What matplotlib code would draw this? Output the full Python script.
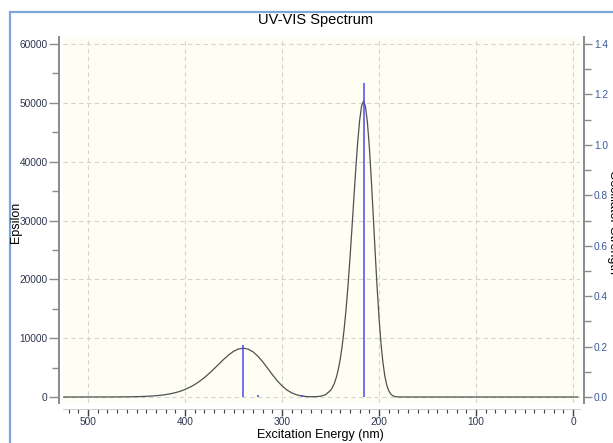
import matplotlib.pyplot as plt
from matplotlib.patches import Rectangle
from matplotlib.ticker import MultipleLocator

plt.rcParams['font.family'] = ['Liberation Sans', 'DejaVu Sans']

# broadened absorption curve (wavelength in nm, epsilon)
wavelength = [525, 520, 500, 480, 470, 460, 450, 445, 440, 435, 430, 425, 420,
              415, 410, 405, 400, 395, 390, 385, 380, 375, 370, 365, 360, 355,
              350, 345, 340, 335, 330, 325, 320, 315, 310, 305, 300, 295, 290,
              285, 280, 275, 270, 265, 260, 255, 250, 248, 246, 244, 242, 240,
              238, 236, 234, 232, 230, 228, 226, 224, 222, 220, 218, 216, 214,
              212, 210, 208, 206, 204, 202, 200, 198, 196, 194, 192, 190, 188,
              186, 184, 182, 180, 175, 170, 100, -5]
epsilon = [0, 0, 2, 7, 14, 29, 58, 81, 113, 158, 218, 299, 407,
           550, 736, 975, 1279, 1656, 2117, 2667, 3303, 4023, 4805, 5620, 6423, 7155,
           7756, 8156, 8300, 8148, 7690, 6954, 5999, 4918, 3811, 2777, 1894, 1199, 702,
           376, 183, 84, 44, 55, 141, 408, 1116, 1632, 2353, 3341, 4670, 6418,
           8657, 11464, 14874, 18883, 23455, 28435, 33610, 38681, 43278, 46990, 49435, 50300, 49400,
           46744, 42519, 37086, 30955, 24662, 18707, 13465, 9170, 5895, 3559, 2015, 1064, 522,
           237, 99, 38, 13, 1, 0, 0, 0]

# excitations: wavelength (nm) and oscillator strength
exc_nm = [340, 325, 279, 216]
exc_f = [0.205, 0.006, 0.006, 1.245]

fig = plt.figure(figsize=(6.13, 4.43), dpi=100)
W, H = 613, 443
ax = fig.add_axes([63 / W, 1 - 403 / H, (580 - 63) / W, (403 - 37) / H])
ax.set_facecolor('#fefef4')

ax.plot(wavelength, epsilon, color='#505050', lw=0.9, zorder=3)

ymin, ymax = -1020, 61190
ax.set_xlim(525.8, -7.2)
ax.set_ylim(ymin, ymax)

ax.xaxis.set_major_locator(MultipleLocator(100))
ax.xaxis.set_minor_locator(MultipleLocator(10))
ax.yaxis.set_major_locator(MultipleLocator(10000))
ax.yaxis.set_minor_locator(MultipleLocator(5000))

ax.grid(True, which='major', color='#d4d4d4', ls=(0, (4, 3)), lw=0.8)
ax.set_axisbelow(True)

spine_col = '#8a8a8a'
ax.spines['top'].set_visible(False)
ax.spines['right'].set_visible(False)
ax.spines['left'].set_color(spine_col)
ax.spines['left'].set_linewidth(1.4)
ax.spines['left'].set_position(('outward', 3))
ax.spines['bottom'].set_color('#c8c8c8')
ax.spines['bottom'].set_linewidth(0.6)
ax.spines['bottom'].set_position(('outward', 4))

ax.tick_params(axis='y', which='major', length=7, width=1, color=spine_col,
               labelsize=7.3, labelcolor='#2e3550', pad=1)
ax.tick_params(axis='y', which='minor', length=5, width=1, color=spine_col)
ax.tick_params(axis='x', which='major', length=5, width=1, color='#404040',
               labelsize=7.3, labelcolor='#2e3550', pad=1)
ax.tick_params(axis='x', which='minor', length=3, width=0.8, color='#404040')

fig.text(320 / W, 1 - 435 / H, 'Excitation Energy (nm)', ha='center',
         va='center', fontsize=9)
fig.text(16 / W, 1 - 222 / H, 'Epsilon', rotation=90, ha='center',
         va='center', fontsize=9)

# oscillator strength on the right axis
ax2 = ax.twinx()
scale = 1.4 / 60000
ax2.set_ylim(ymin * scale, ymax * scale)
ax2.vlines(exc_nm, 0, exc_f, color='#4a4af0', lw=1.1, zorder=4)
ax2.yaxis.set_major_locator(MultipleLocator(0.2))
ax2.yaxis.set_minor_locator(MultipleLocator(0.1))
for s in ['top', 'left', 'bottom']:
    ax2.spines[s].set_visible(False)
ax2.spines['right'].set_color(spine_col)
ax2.spines['right'].set_linewidth(1.4)
ax2.spines['right'].set_position(('outward', 3))
ax2.tick_params(axis='y', which='major', length=6, width=1, color=spine_col,
                labelsize=7.3, labelcolor='#3a5a98', pad=1)
ax2.tick_params(axis='y', which='minor', length=5, width=1, color=spine_col)
ax2.yaxis.set_major_formatter(lambda v, p: f'{v:.1f}')

fig.text(613 / W, 1 - 222 / H, 'Oscillator Strength', rotation=270,
         ha='center', va='center', fontsize=9)
fig.text(316 / W, 1 - 20 / H, 'UV-VIS Spectrum', ha='center', va='center',
         fontsize=10.5)

# window frame
fig.add_artist(Rectangle((10 / W, -0.2), 1.2, 1.2 - 12 / H, fill=False,
                         edgecolor='#7ea6d8', lw=1.6, transform=fig.transFigure))

fig.savefig('out.png', dpi=100)
